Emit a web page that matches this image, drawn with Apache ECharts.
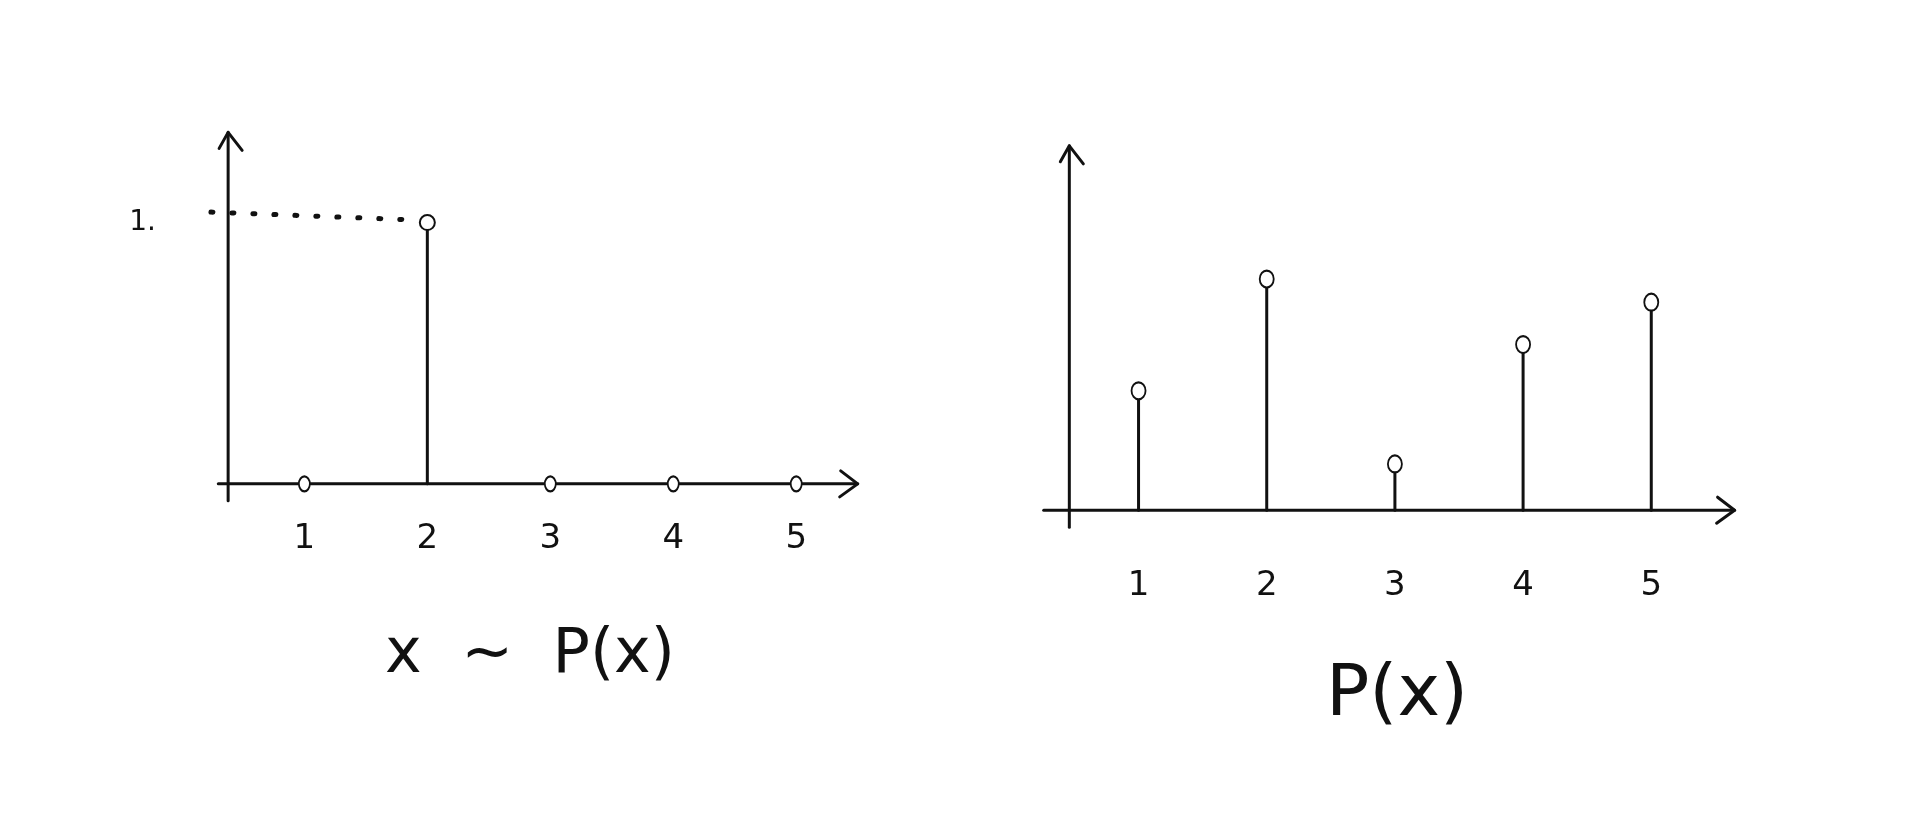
<!DOCTYPE html>
<html>
<head>
<meta charset="utf-8">
<script src="https://cdn.jsdelivr.net/npm/echarts@6/dist/echarts.min.js"></script>
<style>
html,body{margin:0;padding:0;background:#fff;}
#chart{width:1914px;height:836px;}
</style>
</head>
<body>
<div id="chart"></div>
<script>
// ---- data ----
const xs = [1, 2, 3, 4, 5];
const tickLabels = ['1', '2', '3', '4', '5'];
const leftValues = [0, 1, 0, 0, 0];            // x ~ P(x): all mass at x = 2
const rightValues = [0.155, 0.30, 0.06, 0.215, 0.27]; // P(x)
const leftYTick = [1];
const leftYTickLabel = '1.';
const leftTitle = 'x  ~  P(x)';
const rightTitle = 'P(x)';

// axis extents (data space) for hand-drawn style axes
const leftAxisX = [0.3, 5.5], leftAxisYAt = 0.38, leftAxisY = [-0.065, 1.345];
const rightAxisX = [0.26, 5.65], rightAxisYAt = 0.46, rightAxisY = [-0.022, 0.473];
const guideStartX = 0.24;

const FONT = 'DejaVu Sans';
const INK = '#111';

const chart = echarts.init(document.getElementById('chart'), null, {renderer: 'canvas'});

function axesRender(xr, yAt, yr) {
  return function (params, api) {
    const a = api.coord([xr[0], 0]);
    const b = api.coord([xr[1], 0]);
    const c = api.coord([yAt, yr[0]]);
    const d = api.coord([yAt, yr[1]]);
    const st = {stroke: INK, lineWidth: 3, lineCap: 'round', lineJoin: 'round', fill: null};
    return {
      type: 'group',
      children: [
        {type: 'line', shape: {x1: a[0], y1: a[1], x2: b[0], y2: b[1]}, style: st},
        {type: 'polyline', shape: {points: [[b[0] - 17, b[1] - 13], [b[0], b[1]], [b[0] - 18, b[1] + 13]]}, style: st},
        {type: 'line', shape: {x1: c[0], y1: c[1], x2: d[0], y2: d[1]}, style: st},
        {type: 'polyline', shape: {points: [[d[0] - 9, d[1] + 16], [d[0], d[1]], [d[0] + 14, d[1] + 18]]}, style: st}
      ]
    };
  };
}

function stemRender(params, api) {
  const x = api.value(0), v = api.value(1);
  if (!v) return null;
  const p0 = api.coord([x, 0]);
  const p1 = api.coord([x, v]);
  return {type: 'line', shape: {x1: p0[0], y1: p0[1], x2: p1[0], y2: p1[1]},
          style: {stroke: INK, lineWidth: 3, lineCap: 'round'}};
}

const leftData = xs.map((x, i) => [x, leftValues[i]]);
const rightData = xs.map((x, i) => [x, rightValues[i]]);

const xLabel = (margin) => ({
  customValues: xs,
  formatter: (v) => tickLabels[xs.indexOf(Math.round(v))] || '',
  fontSize: 34, color: INK, fontFamily: FONT, margin: margin
});

chart.setOption({
  animation: false,
  backgroundColor: '#fff',
  grid: [
    {left: 206, top: 118, width: 664, height: 392},
    {left: 1036, top: 125, width: 705, height: 416}
  ],
  xAxis: [
    {gridIndex: 0, type: 'value', min: 0.2, max: 5.6,
     axisLine: {show: false, onZero: false}, axisTick: {show: false}, splitLine: {show: false},
     axisLabel: xLabel(12)},
    {gridIndex: 1, type: 'value', min: 0.2, max: 5.7,
     axisLine: {show: false, onZero: false}, axisTick: {show: false}, splitLine: {show: false},
     axisLabel: xLabel(28)}
  ],
  yAxis: [
    {gridIndex: 0, type: 'value', min: -0.1, max: 1.4,
     axisLine: {show: false}, axisTick: {show: false}, splitLine: {show: false},
     axisLabel: {customValues: leftYTick, formatter: () => leftYTickLabel,
                 fontSize: 28, color: INK, fontFamily: FONT, margin: 50}},
    {gridIndex: 1, type: 'value', min: -0.04, max: 0.5,
     axisLine: {show: false}, axisTick: {show: false}, splitLine: {show: false},
     axisLabel: {show: false}}
  ],
  series: [
    {type: 'custom', xAxisIndex: 0, yAxisIndex: 0, data: [[0, 0]], silent: true, z: 1,
     renderItem: axesRender(leftAxisX, leftAxisYAt, leftAxisY)},
    {type: 'custom', xAxisIndex: 1, yAxisIndex: 1, data: [[0, 0]], silent: true, z: 1,
     renderItem: axesRender(rightAxisX, rightAxisYAt, rightAxisY)},
    {type: 'custom', xAxisIndex: 0, yAxisIndex: 0, data: leftData, z: 2, renderItem: stemRender},
    {type: 'custom', xAxisIndex: 1, yAxisIndex: 1, data: rightData, z: 2, renderItem: stemRender},
    {type: 'scatter', xAxisIndex: 0, yAxisIndex: 0, data: leftData, z: 3,
     symbol: 'emptyCircle',
     symbolSize: (v) => v[1] ? [15, 15] : [11, 15],
     itemStyle: {color: INK, borderColor: INK, borderWidth: 3, opacity: 1},
     markLine: {silent: true, symbol: ['none', 'none'], label: {show: false}, z: 2,
       lineStyle: {color: INK, width: 5, type: [2, 19], cap: 'round', opacity: 1},
       data: [[{coord: [guideStartX, leftValues[1] + 0.04]}, {coord: [xs[1] - 0.12, leftValues[1] + 0.01]}]]}},
    {type: 'scatter', xAxisIndex: 1, yAxisIndex: 1, data: rightData, z: 3,
     symbol: 'emptyCircle', symbolSize: [14, 17],
     itemStyle: {color: INK, borderColor: INK, borderWidth: 3, opacity: 1}}
  ],
  graphic: [
    {type: 'text', x: 530, y: 656, style: {text: leftTitle, fontSize: 62, fontFamily: FONT,
      fill: INK, align: 'center', verticalAlign: 'middle'}},
    {type: 'text', x: 1397, y: 696, style: {text: rightTitle, fontSize: 72, fontFamily: FONT,
      fill: INK, align: 'center', verticalAlign: 'middle'}}
  ]
});
</script>
</body>
</html>
